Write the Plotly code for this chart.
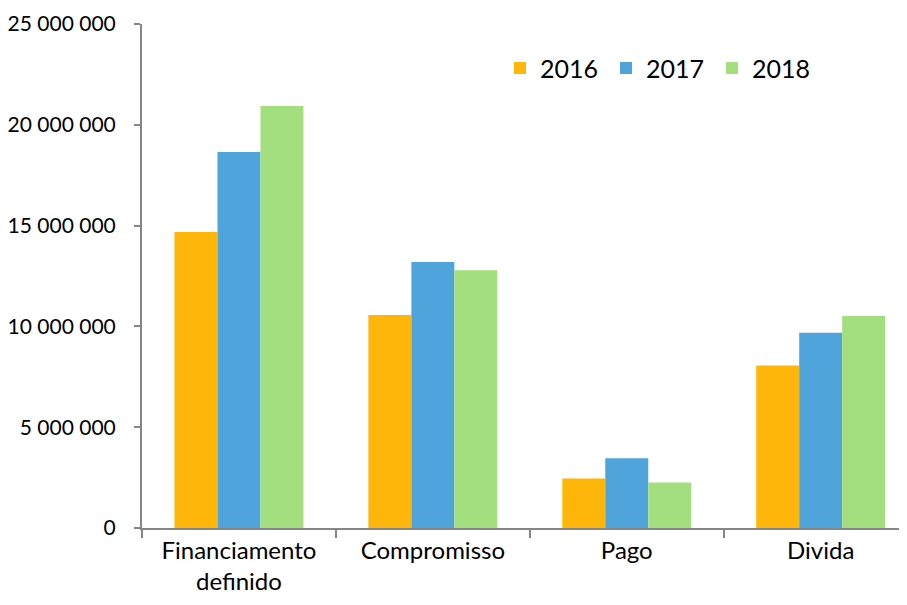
import plotly.graph_objects as go

categories = ["Financiamento<br>definido", "Compromisso", "Pago", "Divida"]
years = ["2016", "2017", "2018"]
values_2016 = [14680000, 10560000, 2460000, 8060000]
values_2017 = [18650000, 13190000, 3460000, 9680000]
values_2018 = [20930000, 12790000, 2260000, 10510000]
colors = ["#FFB60B", "#4FA5DB", "#A3DF7E"]

fig = go.Figure()
for name, vals, c in zip(years, [values_2016, values_2017, values_2018], colors):
    fig.add_trace(go.Bar(x=categories, y=vals, name=name, marker=dict(color=c, line=dict(width=0))))

fig.update_layout(
    width=907, height=605,
    margin=dict(l=134, r=9, t=16, b=85, autoexpand=False),
    paper_bgcolor="white", plot_bgcolor="white",
    font=dict(family="Lato, Carlito, sans-serif", size=21, color="#000000"),
    separators=". ",
    bargap=0.335, bargroupgap=0,
    showlegend=True,
    legend=dict(orientation="h", x=0.4686, y=0.912, xanchor="left", yanchor="middle",
                font=dict(size=25), bgcolor="rgba(0,0,0,0)",
                itemwidth=30, entrywidth=61, entrywidthmode="pixels"),
    xaxis=dict(range=[-0.5, 3.44], showline=True, linecolor="#868686", linewidth=2,
               ticks="outside", tickson="boundaries", ticklen=8, tickcolor="#868686", tickwidth=2,
               showgrid=False, tickfont=dict(size=24), automargin=False),
    yaxis=dict(range=[0, 25000000], dtick=5000000, tickformat=",d", showline=True,
               linecolor="#868686", linewidth=2, ticks="outside", ticklen=6,
               tickcolor="#868686", tickwidth=2, showgrid=False, zeroline=False,
               tickfont=dict(size=21), ticklabelstandoff=14, automargin=False),
)
fig.write_html("out.html")
